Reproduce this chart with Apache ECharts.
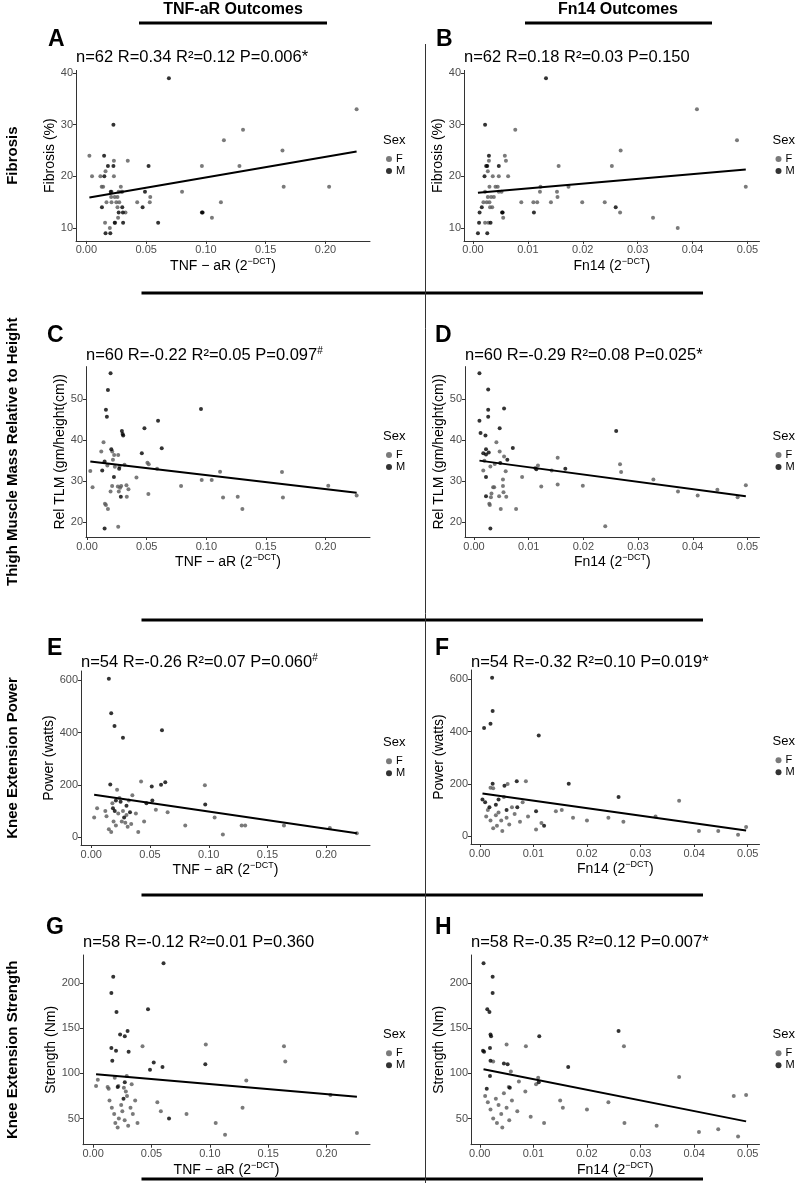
<!DOCTYPE html>
<html>
<head>
<meta charset="utf-8">
<script src="https://cdn.jsdelivr.net/npm/echarts@6/dist/echarts.min.js"></script>
<style>
html,body{margin:0;padding:0;background:#fff;}
#chart{width:800px;height:1183px;}
</style>
</head>
<body>
<div id="chart"></div>
<script>
// ---------------- DATA ----------------
const tnfTicks = [0, 0.05, 0.10, 0.15, 0.20];
const fn14Ticks = [0, 0.01, 0.02, 0.03, 0.04, 0.05];
const fibrosisTicks = [10, 20, 30, 40];
const tlmTicks = [20, 30, 40, 50];
const powerTicks = [0, 200, 400, 600];
const strengthTicks = [50, 100, 150, 200];

const columnHeaders = ['TNF-aR Outcomes', 'Fn14 Outcomes'];
const rowLabels = ['Fibrosis', 'Thigh Muscle Mass Relative to Height', 'Knee Extension Power', 'Knee Extension Strength'];
const panelLetters = ['A', 'B', 'C', 'D', 'E', 'F', 'G', 'H'];
const panelStats = [
  ['n=62 R=0.34 R²=0.12 P=0.006*', ''],
  ['n=62 R=0.18 R²=0.03 P=0.150', ''],
  ['n=60 R=-0.22 R²=0.05 P=0.097', '#'],
  ['n=60 R=-0.29 R²=0.08 P=0.025*', ''],
  ['n=54 R=-0.26 R²=0.07 P=0.060', '#'],
  ['n=54 R=-0.32 R²=0.10 P=0.019*', ''],
  ['n=58 R=-0.12 R²=0.01 P=0.360', ''],
  ['n=58 R=-0.35 R²=0.12 P=0.007*', '']
];
const yTitles = ['Fibrosis (%)', 'Fibrosis (%)', 'Rel TLM (gm/height(cm))', 'Rel TLM (gm/height(cm))',
  'Power (watts)', 'Power (watts)', 'Strength (Nm)', 'Strength (Nm)'];
const legendTitle = 'Sex';
const sexLevels = ['F', 'M'];

// A: Fibrosis vs TNF-aR
const A_F = [[0.0025,24],[0.0047,20],[0.0117,20],[0.0128,18],[0.014,18],[0.0156,11],[0.016,21],[0.0168,15],[0.0196,10],[0.0207,16],[0.021,17],[0.023,23],[0.023,20],[0.0237,16],[0.024,11],[0.025,15],[0.026,14],[0.0265,12],[0.027,17],[0.0275,15],[0.0288,18],[0.0293,17],[0.030,17],[0.0327,13],[0.0346,23],[0.0425,15],[0.053,15],[0.0534,16],[0.080,17],[0.0966,22],[0.105,12],[0.1125,15],[0.115,27],[0.128,22],[0.131,29],[0.164,25],[0.165,18],[0.203,18],[0.226,33],[0.021,15],[0.026,16]];
const A_M = [[0.0148,24],[0.013,14],[0.015,20],[0.016,9],[0.018,22],[0.020,9],[0.0204,17],[0.0226,30],[0.0226,22],[0.0237,11],[0.027,13],[0.030,14],[0.0305,13],[0.0307,11],[0.047,14],[0.049,17],[0.052,22],[0.060,11],[0.069,39],[0.0966,13],[0.0972,13]];
const A_fit = [[0.0025,15.9],[0.226,24.8]];

// B: Fibrosis vs Fn14
const B_F = [[0.0022,17],[0.0022,11],[0.0025,15],[0.0027,21],[0.0027,16],[0.0029,23],[0.003,18],[0.003,15],[0.0033,16],[0.0035,14],[0.0036,20],[0.0038,16],[0.0041,18],[0.0047,20],[0.0047,17],[0.0052,17],[0.0055,12],[0.0058,24],[0.006,23],[0.0064,20],[0.0077,29],[0.0088,15],[0.011,15],[0.0117,15],[0.0122,17],[0.0123,18],[0.0142,15],[0.0153,17],[0.0154,16],[0.0156,22],[0.0174,18],[0.0199,15],[0.024,15],[0.0253,22],[0.0268,13],[0.0269,25],[0.0328,12],[0.0373,10],[0.0408,33],[0.0481,27],[0.0497,18],[0.0019,15],[0.0031,14],[0.0045,18],[0.0028,11]];
const B_M = [[0.0009,9],[0.0011,11],[0.0012,13],[0.0016,14],[0.0021,20],[0.0022,30],[0.0024,22],[0.0026,22],[0.0026,9],[0.0029,24],[0.0032,11],[0.0047,22],[0.0053,13],[0.0054,13],[0.0111,13],[0.0133,39],[0.026,14]];
const B_fit = [[0.0009,16.8],[0.0497,21.3]];

// C: Rel TLM vs TNF-aR
const C_F = [[0.0027,32.5],[0.0046,28.5],[0.0119,37.2],[0.0138,39.5],[0.015,24.5],[0.0158,24.2],[0.0175,23.2],[0.017,33.8],[0.0197,27.5],[0.0211,37.2],[0.0217,35.2],[0.0233,33.5],[0.0227,36.4],[0.0261,36.4],[0.0258,28.7],[0.0266,27.5],[0.0261,18.9],[0.0272,33.6],[0.0277,28.4],[0.0286,28.8],[0.0314,34],[0.0333,26.2],[0.0347,28],[0.0414,30.9],[0.0506,34.5],[0.0517,34.1],[0.0514,26.9],[0.0587,33],[0.0788,28.8],[0.0961,30.3],[0.1045,30.3],[0.1115,32.3],[0.114,26],[0.1263,26.2],[0.1302,23.2],[0.1634,32.2],[0.1642,26],[0.2022,28.9],[0.226,26.5],[0.021,28.8],[0.033,29]];
const C_M = [[0.0127,32.6],[0.0147,34.8],[0.0147,18.5],[0.0158,47.4],[0.0166,45.7],[0.0175,52.2],[0.0197,56.3],[0.0203,37.8],[0.0225,31],[0.0269,33],[0.0283,26.2],[0.0292,42.2],[0.0298,41.5],[0.0303,41.1],[0.0459,36.8],[0.0481,42.9],[0.0595,44.7],[0.0626,38],[0.0955,47.6]];
const C_fit = [[0.0027,34.76],[0.226,27.2]];

// D: Rel TLM vs Fn14
const D_F = [[0.0017,32.6],[0.0019,35],[0.0028,24.5],[0.0029,24.2],[0.003,33.6],[0.0031,26.1],[0.0032,27],[0.0035,28.5],[0.0037,28.5],[0.0038,34.2],[0.0041,39.5],[0.0046,26.3],[0.0047,37.2],[0.0049,23.2],[0.0053,30.4],[0.0053,28.8],[0.0054,27.3],[0.0055,36],[0.0058,32.4],[0.0059,26.2],[0.0077,23.2],[0.0088,31],[0.0112,33.2],[0.0117,33.8],[0.0123,28.7],[0.0142,32.6],[0.0153,35.7],[0.0153,29.2],[0.0199,28.9],[0.024,19],[0.0267,34.1],[0.0269,32.2],[0.0328,30.4],[0.0373,27.5],[0.0409,26.5],[0.0445,27.9],[0.0482,26.1],[0.0497,29]];
const D_M = [[0.001,56.3],[0.001,44.7],[0.0012,41.7],[0.0017,36.8],[0.0021,41.1],[0.0022,37.8],[0.0022,36.5],[0.0022,31],[0.0022,26.3],[0.0026,52.3],[0.0026,47.4],[0.0026,45.7],[0.0027,37],[0.003,18.5],[0.0047,42.9],[0.0048,34.4],[0.0055,47.7],[0.0061,35.2],[0.0071,38.1],[0.0114,32.9],[0.0167,33],[0.026,42.2]];
const D_fit = [[0.001,35.0],[0.0497,26.3]];

// E: Power vs TNF-aR
const E_F = [[0.022,181],[0.0424,213],[0.0967,198],[0.0025,75],[0.005,110],[0.012,100],[0.013,80],[0.015,30],[0.017,20],[0.019,60],[0.021,45],[0.023,90],[0.024,150],[0.026,60],[0.027,100],[0.029,55],[0.03,85],[0.031,40],[0.032,140],[0.034,50],[0.035,160],[0.038,90],[0.04,20],[0.045,60],[0.055,105],[0.065,95],[0.08,45],[0.105,75],[0.112,10],[0.128,45],[0.131,45],[0.164,45],[0.203,35],[0.226,15],[0.018,130]];
const E_M = [[0.015,605],[0.017,474],[0.0198,425],[0.027,380],[0.0602,409],[0.0162,201],[0.0515,194],[0.0594,200],[0.063,210],[0.097,125],[0.0185,110],[0.021,140],[0.025,135],[0.03,120],[0.033,95],[0.047,130],[0.052,140],[0.02,100],[0.028,75]];
const E_fit = [[0.0025,162],[0.226,15]];

// F: Power vs Fn14
const F_F = [[0.002,185],[0.0025,183],[0.0052,199],[0.0086,210],[0.0372,135],[0.0015,100],[0.002,60],[0.0025,30],[0.003,80],[0.0032,40],[0.0035,90],[0.004,60],[0.0042,20],[0.0045,150],[0.005,70],[0.0055,45],[0.006,110],[0.0065,85],[0.0075,55],[0.008,130],[0.009,75],[0.0105,25],[0.0115,50],[0.0142,95],[0.0153,100],[0.0174,70],[0.02,60],[0.024,70],[0.0268,55],[0.0328,75],[0.0409,20],[0.0445,20],[0.0482,5],[0.0497,35],[0.0012,75]];
const F_M = [[0.0023,605],[0.0024,478],[0.002,430],[0.0008,413],[0.011,385],[0.0024,200],[0.0046,193],[0.0069,210],[0.0166,200],[0.0259,150],[0.0005,140],[0.001,130],[0.0018,110],[0.003,120],[0.0035,140],[0.005,100],[0.007,110],[0.0105,95],[0.012,40]];
const F_fit = [[0.0005,163],[0.0497,22]];

// G: Strength vs TNF-aR
const G_F = [[0.0423,130],[0.0288,97],[0.0965,132],[0.1312,92],[0.1635,130],[0.1646,113],[0.004,93],[0.0025,86],[0.0124,85],[0.0133,83],[0.0216,86],[0.0263,84],[0.028,80],[0.2033,76],[0.226,34],[0.014,70],[0.016,62],[0.018,55],[0.019,45],[0.021,40],[0.022,50],[0.024,65],[0.025,58],[0.027,48],[0.029,75],[0.03,42],[0.032,62],[0.034,55],[0.036,70],[0.038,45],[0.055,68],[0.058,58],[0.08,55],[0.105,45],[0.113,32],[0.128,62],[0.0185,95],[0.033,88]];
const G_M = [[0.0603,222],[0.0172,207],[0.0156,189],[0.02,168],[0.047,171],[0.0231,143],[0.0271,141],[0.0295,147],[0.0156,128],[0.0196,125],[0.0304,124],[0.0164,114],[0.0271,90],[0.0487,104],[0.0519,112],[0.0594,107],[0.0961,110],[0.021,85],[0.026,72],[0.065,50]];
const G_fit = [[0.0025,98.9],[0.226,74.1]];

// H: Strength vs Fn14
const H_F = [[0.005,132],[0.0086,130],[0.0269,130],[0.0025,113],[0.0058,102],[0.0073,91],[0.0109,95],[0.0372,96],[0.0474,75],[0.0054,85],[0.001,75],[0.0015,68],[0.002,60],[0.0025,50],[0.003,72],[0.0032,45],[0.0035,65],[0.004,55],[0.0042,40],[0.0045,78],[0.005,62],[0.0055,48],[0.006,70],[0.007,58],[0.0085,80],[0.0105,88],[0.012,45],[0.015,70],[0.0155,62],[0.02,60],[0.024,68],[0.027,45],[0.033,42],[0.0409,35],[0.0445,38],[0.0482,30],[0.0497,76],[0.0095,52]];
const H_M = [[0.0007,222],[0.0024,207],[0.0024,189],[0.0014,171],[0.0018,168],[0.002,143],[0.0021,141],[0.0006,125],[0.0008,124],[0.0019,128],[0.0111,141],[0.0259,147],[0.002,114],[0.0045,111],[0.0052,110],[0.0019,97],[0.011,90],[0.0165,107],[0.0013,83],[0.0056,84]];
const H_fit = [[0.0007,104.5],[0.0497,46.8]];

// ---------------- LAYOUT / STYLE ----------------
const FONT = '"Liberation Sans", Arial, Helvetica, sans-serif';
const COLOR_F = '#595959';
const COLOR_M = '#000000';

const seriesData = [
  [A_F, A_M, A_fit], [B_F, B_M, B_fit], [C_F, C_M, C_fit], [D_F, D_M, D_fit],
  [E_F, E_M, E_fit], [F_F, F_M, F_fit], [G_F, G_M, G_fit], [H_F, H_M, H_fit]
];
const yTickSets = [fibrosisTicks, fibrosisTicks, tlmTicks, tlmTicks, powerTicks, powerTicks, strengthTicks, strengthTicks];

const boxes = [
  {left:76,  top:70.4,  width:294,   height:170.5, xMin:-0.0087,  xMax:0.2372, yMin:7.5,  yMax:40.5, lx:48,  ly:28,  tt:48,  ng:16},
  {left:464, top:70.4,  width:295.5, height:170.5, xMin:-0.00164, xMax:0.0522, yMin:7.5,  yMax:40.5, lx:436, ly:28,  tt:48,  ng:16},
  {left:86,  top:366.6, width:284,   height:170.4, xMin:-0.0009,  xMax:0.2372, yMin:16.4, yMax:57.9, lx:47,  ly:324, tt:346, ng:15},
  {left:465, top:366.6, width:294.5, height:170.4, xMin:-0.00164, xMax:0.0522, yMin:16.4, yMax:57.9, lx:435, ly:324, tt:346, ng:15},
  {left:81,  top:671,   width:289,   height:174,   xMin:-0.0087,  xMax:0.2372, yMin:-30,  yMax:635,  lx:47,  ly:637, tt:653, ng:25},
  {left:471, top:670,   width:288.5, height:174,   xMin:-0.00164, xMax:0.0522, yMin:-30,  yMax:635,  lx:435, ly:637, tt:653, ng:25},
  {left:83,  top:955,   width:287,   height:189.7, xMin:-0.0087,  xMax:0.2372, yMin:21,   yMax:231,  lx:46,  ly:916, tt:933, ng:25},
  {left:471, top:955,   width:288.5, height:189.7, xMin:-0.00164, xMax:0.0522, yMin:21,   yMax:231,  lx:435, ly:916, tt:933, ng:25}
];
const separatorYs = [293, 620, 895, 1179];
const headerCenters = [233, 618];
const headerLines = [[139, 327], [525, 712]];

// ---------------- BUILD ----------------
const grid = [], xAxis = [], yAxis = [], series = [], title = [], legend = [], graphic = [];

boxes.forEach((b, i) => {
  const isTnf = i % 2 === 0;
  const xt = isTnf ? tnfTicks : fn14Ticks;
  const yt = yTickSets[i];
  grid.push({left:b.left, top:b.top, width:b.width, height:b.height, outerBoundsMode:'none', containLabel:false});
  xAxis.push({
    gridIndex:i, type:'value', min:b.xMin, max:b.xMax,
    axisLine:{show:true, onZero:false, lineStyle:{color:'#333', width:1}},
    axisTick:{show:true, length:3, customValues:xt, lineStyle:{color:'#333'}},
    axisLabel:{customValues:xt, formatter:v=>v.toFixed(2), fontSize:11, color:'#4d4d4d', margin:4, fontFamily:FONT},
    splitLine:{show:false},
    name: isTnf ? '{n|TNF − aR (2}{s|−DCT}{n|)}' : '{n|Fn14 (2}{s|−DCT}{n|)}',
    nameLocation:'middle', nameGap:16,
    nameTextStyle:{rich:{
      n:{fontSize:14, color:'#000', fontFamily:FONT, lineHeight:18},
      s:{fontSize:9, color:'#000', fontFamily:FONT, lineHeight:10, verticalAlign:'top'}
    }}
  });
  yAxis.push({
    gridIndex:i, type:'value', min:b.yMin, max:b.yMax,
    axisLine:{show:true, onZero:false, lineStyle:{color:'#333', width:1}},
    axisTick:{show:true, length:3, customValues:yt, lineStyle:{color:'#333'}},
    axisLabel:{customValues:yt, formatter:v=>String(v), fontSize:11, color:'#4d4d4d', margin:3, fontFamily:FONT},
    splitLine:{show:false},
    name:yTitles[i], nameLocation:'middle', nameGap:b.ng,
    nameTextStyle:{fontSize:14, color:'#000', fontFamily:FONT}
  });
  const [fD, mD, fitD] = seriesData[i];
  series.push({type:'scatter', name:'F', xAxisIndex:i, yAxisIndex:i, data:fD, symbolSize:4, itemStyle:{color:COLOR_F}, z:2});
  series.push({type:'scatter', name:'M', xAxisIndex:i, yAxisIndex:i, data:mD, symbolSize:4, itemStyle:{color:COLOR_M}, z:2});
  series.push({type:'line', name:'fit', xAxisIndex:i, yAxisIndex:i, data:fitD, showSymbol:false, symbol:'none',
    lineStyle:{color:'#000', width:2}, z:3, silent:true});

  // panel title and letter
  const [stat, sup] = panelStats[i];
  title.push({
    text: '{a|' + stat + '}' + (sup ? '{b|' + sup + '}' : ''),
    left:b.left, top:b.tt, padding:0,
    textStyle:{fontWeight:'normal', rich:{
      a:{fontSize:16.5, fontWeight:'normal', color:'#000', fontFamily:FONT, lineHeight:18},
      b:{fontSize:10, fontWeight:'normal', color:'#000', fontFamily:FONT, lineHeight:10, verticalAlign:'top'}
    }}
  });
  title.push({text:panelLetters[i], left:b.lx, top:b.ly, padding:0,
    textStyle:{fontSize:23, fontWeight:'bold', color:'#000', fontFamily:FONT}});

  // legend
  const right = b.left + b.width;
  const cy = b.top + b.height / 2;
  legend.push({
    data:sexLevels, orient:'vertical', left:right + 16, top:cy - 2.7, padding:0,
    itemWidth:6, itemHeight:6, itemGap:0, icon:'circle', selectedMode:false,
    textStyle:{fontSize:11, color:'#000', fontFamily:FONT, lineHeight:12, padding:[0,0,0,-1]}
  });
  graphic.push({type:'text', left:right + 13, top:cy - 22,
    style:{text:legendTitle, font:'13px ' + FONT, fill:'#000'}});
});

// headers
columnHeaders.forEach((h, k) => {
  graphic.push({type:'text', x:headerCenters[k], y:10,
    style:{text:h, font:'bold 16px ' + FONT, fill:'#000', textAlign:'center', textVerticalAlign:'middle'}});
  graphic.push({type:'line', shape:{x1:headerLines[k][0], y1:23, x2:headerLines[k][1], y2:23},
    style:{stroke:'#000', lineWidth:3}});
});
// separators
separatorYs.forEach(y => {
  graphic.push({type:'line', shape:{x1:141.5, y1:y, x2:703, y2:y}, style:{stroke:'#000', lineWidth:3}});
});
// vertical divider
graphic.push({type:'line', shape:{x1:425.5, y1:44, x2:425.5, y2:1183}, style:{stroke:'#333', lineWidth:1}});
// row labels
const rowCenters = [0, 2, 4, 6].map(i => boxes[i].top + boxes[i].height / 2);
rowLabels.forEach((t, k) => {
  graphic.push({type:'text', x:13, y:rowCenters[k], rotation:Math.PI / 2,
    style:{text:t, font:'bold 15px ' + FONT, fill:'#000', textAlign:'center', textVerticalAlign:'middle'}});
});

const chart = echarts.init(document.getElementById('chart'), null, {renderer:'canvas'});
chart.setOption({
  backgroundColor:'#fff',
  animation:false,
  grid, xAxis, yAxis, series, title, legend, graphic
});
</script>
</body>
</html>
